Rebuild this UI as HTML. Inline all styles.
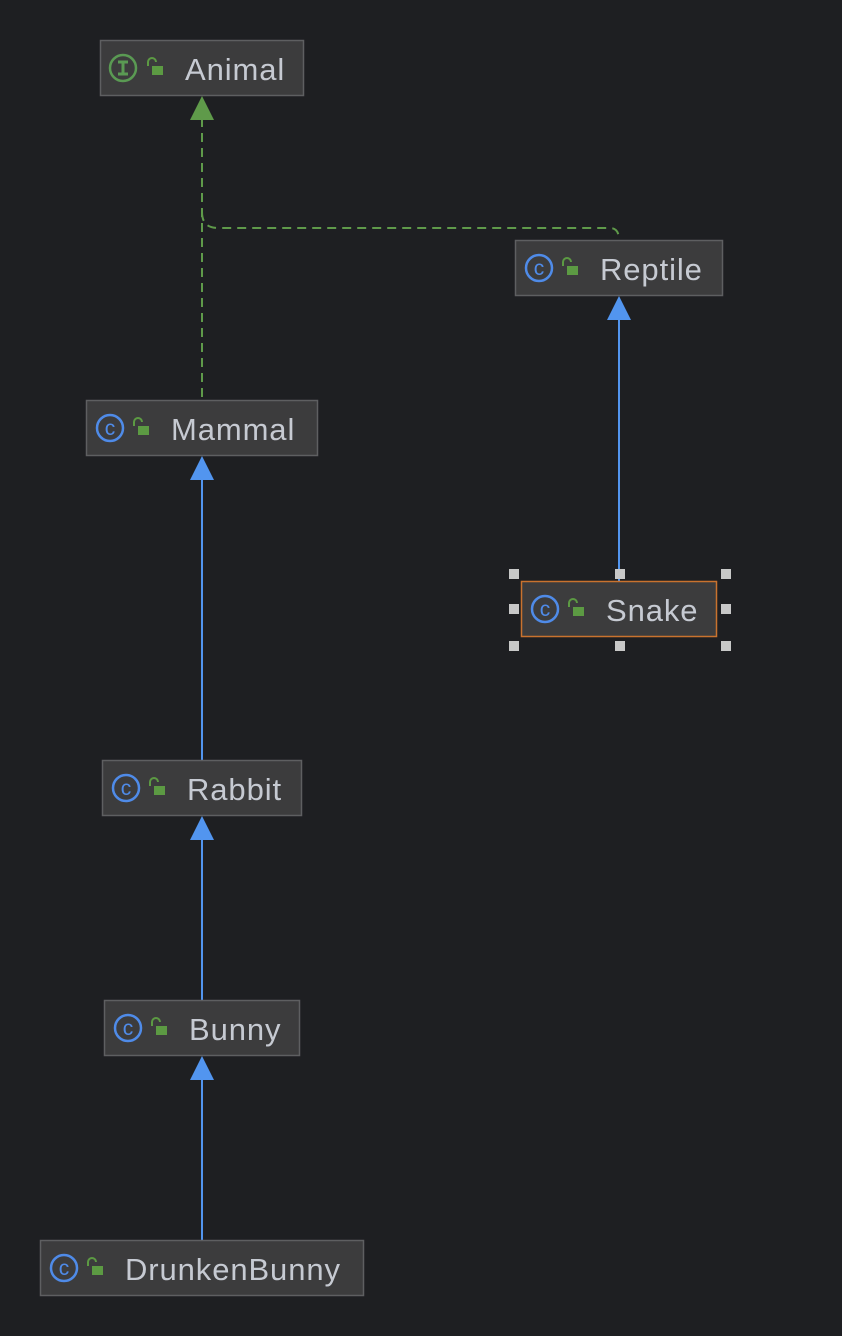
<!DOCTYPE html>
<html><head><meta charset="utf-8"><style>
html,body{margin:0;padding:0;background:#1e1f22;}
svg{display:block}
text{font-family:"Liberation Sans",sans-serif;font-size:31px;letter-spacing:0.9px;fill:#c6cad2;}
</style></head><body>
<svg width="842" height="1336" viewBox="0 0 842 1336" xmlns="http://www.w3.org/2000/svg">
<defs>
<g id="lock"><path d="M-7,-2 v-4 a4,4 0 0 1 8,0" fill="none" stroke="#5c9a43" stroke-width="2"/><rect x="-3" y="-2" width="11" height="9" fill="#5c9a43"/></g>
<g id="cic"><circle r="13" fill="none" stroke="#4f8be8" stroke-width="2.5"/><text x="0" y="7" text-anchor="middle" style="font-size:21px;letter-spacing:0;fill:#4f8be8">c</text></g>
</defs>
<g fill="none" stroke="#5f9a4a" stroke-width="2" stroke-dasharray="9,6">
<path d="M202,118 V400"/>
<path d="M202,212 q0,16 16,16 H610 q9,0 9,12"/>
</g>
<polygon points="202,96 190,120 214,120" fill="#5f9a4a"/>
<g stroke="#5295ef" stroke-width="2">
<line x1="619" y1="318" x2="619" y2="581"/>
<line x1="202" y1="478" x2="202" y2="760"/>
<line x1="202" y1="838" x2="202" y2="1000"/>
<line x1="202" y1="1078" x2="202" y2="1240"/>
</g>
<g fill="#5295ef">
<polygon points="619,296 607,320 631,320"/>
<polygon points="202,456 190,480 214,480"/>
<polygon points="202,816 190,840 214,840"/>
<polygon points="202,1056 190,1080 214,1080"/>
</g>
<g fill="#3c3c3d" stroke="#5e5f61" stroke-width="1.5">
<rect x="100.5" y="40.5" width="203" height="55"/>
<rect x="515.5" y="240.5" width="207" height="55"/>
<rect x="86.5" y="400.5" width="231" height="55"/>
<rect x="102.5" y="760.5" width="199" height="55"/>
<rect x="104.5" y="1000.5" width="195" height="55"/>
<rect x="40.5" y="1240.5" width="323" height="55"/>
</g>
<rect x="521.5" y="581.5" width="195" height="55" fill="#3c3c3d" stroke="#c9722e" stroke-width="1.5"/>
<circle cx="123" cy="68" r="13" fill="none" stroke="#5a9a53" stroke-width="2.5"/>
<path d="M118,62 h10 M118,74 h10 M123,62 v12" stroke="#5a9a53" stroke-width="3"/>
<use href="#lock" x="155" y="68"/>
<text x="185" y="80">Animal</text>
<use href="#cic" x="539" y="268"/><use href="#lock" x="570" y="268"/><text x="600" y="280">Reptile</text>
<use href="#cic" x="110" y="428"/><use href="#lock" x="141" y="428"/><text x="171" y="440">Mammal</text>
<use href="#cic" x="545" y="609"/><use href="#lock" x="576" y="609"/><text x="606" y="621">Snake</text>
<use href="#cic" x="126" y="788"/><use href="#lock" x="157" y="788"/><text x="187" y="800">Rabbit</text>
<use href="#cic" x="128" y="1028"/><use href="#lock" x="159" y="1028"/><text x="189" y="1040">Bunny</text>
<use href="#cic" x="64" y="1268"/><use href="#lock" x="95" y="1268"/><text x="125" y="1280">DrunkenBunny</text>
<g fill="#c8c8c8">
<rect x="509" y="569" width="10" height="10"/><rect x="615" y="569" width="10" height="10"/><rect x="721" y="569" width="10" height="10"/>
<rect x="509" y="604" width="10" height="10"/><rect x="721" y="604" width="10" height="10"/>
<rect x="509" y="641" width="10" height="10"/><rect x="615" y="641" width="10" height="10"/><rect x="721" y="641" width="10" height="10"/>
</g>
</svg>
</body></html>
